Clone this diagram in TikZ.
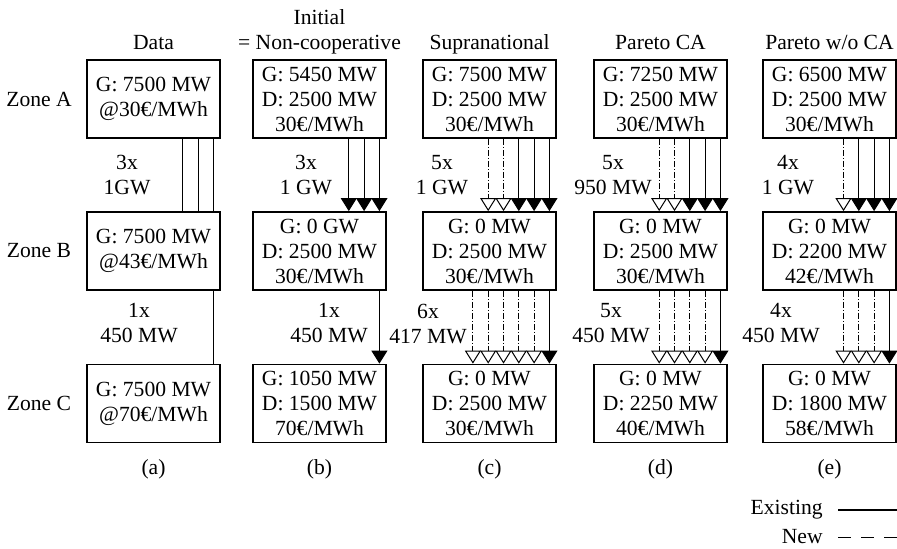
\documentclass[tikz,border=0pt]{standalone}
\usepackage{fontspec}
\setmainfont{Liberation Serif}
\usetikzlibrary{arrows.meta}

\tikzset{
  zonebox/.style={draw, line width=0.9pt, minimum width=66.5pt, minimum height=39pt, inner sep=0pt, align=center},
  link/.style={line width=0.5pt},
  existing/.style={link, -{Triangle[width=8pt,length=6.5pt]}},
  added/.style={link, dash pattern=on 3pt off 1pt on 0.5pt off 1pt, -{Triangle[open,width=8pt,length=6.5pt]}},
  flowlabel/.style={align=center},
}

\begin{document}
\begin{tikzpicture}[x=0.5pt, y=-0.5pt, font=\fontsize{10.8}{12.5}\selectfont]
  \useasboundingbox (0,0) rectangle (897,548);
  % column headers
  \node[anchor=base] (hda) at (153.5,49.5) {Data};
  \node[anchor=base] (hdb1) at (319.5,24.5) {Initial};
  \node[anchor=base] (hdb2) at (319.5,49.5) {= Non-cooperative};
  \node[anchor=base] (hdc) at (489.5,49.5) {Supranational};
  \node[anchor=base] (hdd) at (660.5,49.5) {Pareto CA};
  \node[anchor=base] (hde) at (829.5,49.5) {Pareto w/o CA};
  % zone names
  \node (znA) at (39,99) {Zone A};
  \node (znB) at (39,251) {Zone B};
  \node (znC) at (39,403.5) {Zone C};
  % (a) data
  \node[zonebox] (aA) at (153.5,99) {G: 7500 MW\\@30€/MWh};
  \node[zonebox] (aB) at (153.5,251) {G: 7500 MW\\@43€/MWh};
  \node[zonebox] (aC) at (153.5,403.5) {G: 7500 MW\\@70€/MWh};
  % (b) initial
  \node[zonebox] (bA) at (319.5,99) {G: 5450 MW\\D: 2500 MW\\30€/MWh};
  \node[zonebox] (bB) at (319.5,251) {G: 0 GW\\D: 2500 MW\\30€/MWh};
  \node[zonebox] (bC) at (319.5,403.5) {G: 1050 MW\\D: 1500 MW\\70€/MWh};
  % (c) supranational
  \node[zonebox] (cA) at (489.5,99) {G: 7500 MW\\D: 2500 MW\\30€/MWh};
  \node[zonebox] (cB) at (489.5,251) {G: 0 MW\\D: 2500 MW\\30€/MWh};
  \node[zonebox] (cC) at (489.5,403.5) {G: 0 MW\\D: 2500 MW\\30€/MWh};
  % (d) pareto CA
  \node[zonebox] (dA) at (660.5,99) {G: 7250 MW\\D: 2500 MW\\30€/MWh};
  \node[zonebox] (dB) at (660.5,251) {G: 0 MW\\D: 2500 MW\\30€/MWh};
  \node[zonebox] (dC) at (660.5,403.5) {G: 0 MW\\D: 2250 MW\\40€/MWh};
  % (e) pareto w/o CA
  \node[zonebox] (eA) at (829.5,99) {G: 6500 MW\\D: 2500 MW\\30€/MWh};
  \node[zonebox] (eB) at (829.5,251) {G: 0 MW\\D: 2200 MW\\42€/MWh};
  \node[zonebox] (eC) at (829.5,403.5) {G: 0 MW\\D: 1800 MW\\58€/MWh};
  % lines (a)
  \draw[link] ([xshift=-3.75pt]aA.south east) -- ([xshift=-3.75pt]aB.north east);
  \draw[link] ([xshift=-11.4pt]aA.south east) -- ([xshift=-11.4pt]aB.north east);
  \draw[link] ([xshift=-19.05pt]aA.south east) -- ([xshift=-19.05pt]aB.north east);
  \draw[link] ([xshift=-3.75pt]aB.south east) -- ([xshift=-3.75pt]aC.north east);
  \node[flowlabel] (fa1) at (127,174.5) {3x\\1GW};
  \node[flowlabel] (fa2) at (139,323.5) {1x\\450 MW};
  % lines (b)
  \draw[existing] ([xshift=-3.75pt]bA.south east) -- ([xshift=-3.75pt]bB.north east);
  \draw[existing] ([xshift=-11.4pt]bA.south east) -- ([xshift=-11.4pt]bB.north east);
  \draw[existing] ([xshift=-19.05pt]bA.south east) -- ([xshift=-19.05pt]bB.north east);
  \draw[existing] ([xshift=-3.75pt]bB.south east) -- ([xshift=-3.75pt]bC.north east);
  \node[flowlabel] (fb1) at (306,174.5) {3x\\1 GW};
  \node[flowlabel] (fb2) at (329,323.5) {1x\\450 MW};
  % lines (c)
  \draw[existing] ([xshift=-3.75pt]cA.south east) -- ([xshift=-3.75pt]cB.north east);
  \draw[existing] ([xshift=-11.4pt]cA.south east) -- ([xshift=-11.4pt]cB.north east);
  \draw[existing] ([xshift=-19.05pt]cA.south east) -- ([xshift=-19.05pt]cB.north east);
  \draw[added] ([xshift=-26.7pt]cA.south east) -- ([xshift=-26.7pt]cB.north east);
  \draw[added] ([xshift=-34.35pt]cA.south east) -- ([xshift=-34.35pt]cB.north east);
  \draw[existing] ([xshift=-3.75pt]cB.south east) -- ([xshift=-3.75pt]cC.north east);
  \draw[added] ([xshift=-11.4pt]cB.south east) -- ([xshift=-11.4pt]cC.north east);
  \draw[added] ([xshift=-19.05pt]cB.south east) -- ([xshift=-19.05pt]cC.north east);
  \draw[added] ([xshift=-26.7pt]cB.south east) -- ([xshift=-26.7pt]cC.north east);
  \draw[added] ([xshift=-34.35pt]cB.south east) -- ([xshift=-34.35pt]cC.north east);
  \draw[added] ([xshift=-42pt]cB.south east) -- ([xshift=-42pt]cC.north east);
  \node[flowlabel] (fc1) at (442,175) {5x\\1 GW};
  \node[flowlabel] (fc2) at (428,323.5) {6x\\417 MW};
  % lines (d)
  \draw[existing] ([xshift=-3.75pt]dA.south east) -- ([xshift=-3.75pt]dB.north east);
  \draw[existing] ([xshift=-11.4pt]dA.south east) -- ([xshift=-11.4pt]dB.north east);
  \draw[existing] ([xshift=-19.05pt]dA.south east) -- ([xshift=-19.05pt]dB.north east);
  \draw[added] ([xshift=-26.7pt]dA.south east) -- ([xshift=-26.7pt]dB.north east);
  \draw[added] ([xshift=-34.35pt]dA.south east) -- ([xshift=-34.35pt]dB.north east);
  \draw[existing] ([xshift=-3.75pt]dB.south east) -- ([xshift=-3.75pt]dC.north east);
  \draw[added] ([xshift=-11.4pt]dB.south east) -- ([xshift=-11.4pt]dC.north east);
  \draw[added] ([xshift=-19.05pt]dB.south east) -- ([xshift=-19.05pt]dC.north east);
  \draw[added] ([xshift=-26.7pt]dB.south east) -- ([xshift=-26.7pt]dC.north east);
  \draw[added] ([xshift=-34.35pt]dB.south east) -- ([xshift=-34.35pt]dC.north east);
  \node[flowlabel] (fd1) at (613,175) {5x\\950 MW};
  \node[flowlabel] (fd2) at (611,323.5) {5x\\450 MW};
  % lines (e)
  \draw[existing] ([xshift=-3.75pt]eA.south east) -- ([xshift=-3.75pt]eB.north east);
  \draw[existing] ([xshift=-11.4pt]eA.south east) -- ([xshift=-11.4pt]eB.north east);
  \draw[existing] ([xshift=-19.05pt]eA.south east) -- ([xshift=-19.05pt]eB.north east);
  \draw[added] ([xshift=-26.7pt]eA.south east) -- ([xshift=-26.7pt]eB.north east);
  \draw[existing] ([xshift=-3.75pt]eB.south east) -- ([xshift=-3.75pt]eC.north east);
  \draw[added] ([xshift=-11.4pt]eB.south east) -- ([xshift=-11.4pt]eC.north east);
  \draw[added] ([xshift=-19.05pt]eB.south east) -- ([xshift=-19.05pt]eC.north east);
  \draw[added] ([xshift=-26.7pt]eB.south east) -- ([xshift=-26.7pt]eC.north east);
  \node[flowlabel] (fe1) at (788,175) {4x\\1 GW};
  \node[flowlabel] (fe2) at (781,323.5) {4x\\450 MW};
  % sub captions
  \node (cpa) at (153.5,469) {(a)};
  \node (cpb) at (319.5,469) {(b)};
  \node (cpc) at (489.5,469) {(c)};
  \node (cpd) at (660.5,469) {(d)};
  \node (cpe) at (829.5,469) {(e)};
  % legend
  \node[anchor=east, inner sep=0pt] (lgex) at (823,509.5) {Existing};
  \node[anchor=east, inner sep=0pt] (lgnew) at (823,537) {New};
  \coordinate (lgex1) at (838,510);
  \coordinate (lgex2) at (897,510);
  \coordinate (lgnew1) at (838,537.5);
  \coordinate (lgnew2) at (897,537.5);
  \draw[line width=0.6pt] (lgex1) -- (lgex2);
  \draw[line width=0.6pt, dash pattern=on 6.5pt off 5pt] (lgnew1) -- (lgnew2);
\end{tikzpicture}
\end{document}
